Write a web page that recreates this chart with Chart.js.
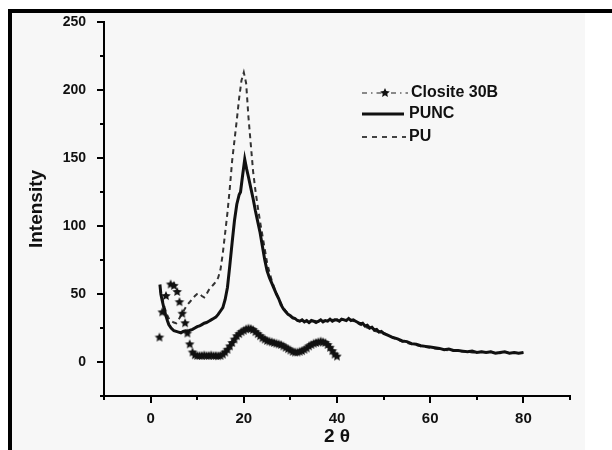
<!DOCTYPE html>
<html lang="en">
<head>
<meta charset="UTF-8">
<title>XRD Patterns</title>
<script src="https://cdn.jsdelivr.net/npm/chart.js"></script>
<style>
    body { margin: 0; background: #fff; }
    .frame {
        position: absolute; left: 8px; top: 9px; width: 604px; height: 441px;
        border-top: 4px solid #000; border-left: 4px solid #000; box-sizing: border-box;
    }
    .panel { position: absolute; left: 12px; top: 13px; width: 573px; height: 437px; background: #f7f7f7; }
    #xrdChart { position: absolute; left: 0; top: 0; }
</style>
</head>
<body>
<div class="frame"></div>
<div class="panel"></div>
<canvas id="xrdChart" width="612" height="450"></canvas>
<script>
// values (2 theta in degrees, intensity a.u.)
const seriesNames = ['Closite 30B', 'PUNC', 'PU'];

const clositeAngle = [1.9, 2.5, 3.3, 4.3, 5.0, 5.7, 6.2, 6.8, 7.4, 7.9, 8.4, 9.0,
    9.5, 10, 10.5, 11, 11.5, 12, 12.5, 13, 13.5, 14, 14.5, 15, 15.5, 16, 16.5, 17, 17.5, 18, 18.5, 19, 19.5,
    20, 20.5, 21, 21.5, 22, 22.5, 23, 23.5, 24, 24.5, 25, 25.5, 26, 26.5, 27, 27.5, 28, 28.5, 29, 29.5,
    30, 30.5, 31, 31.5, 32, 32.5, 33, 33.5, 34, 34.5, 35, 35.5, 36, 36.5, 37, 37.5, 38, 38.5, 39, 39.5, 40];
const clositeIntensity = [18, 36.5, 48.5, 57, 56, 51.5, 44, 35.5, 28.5, 21, 13, 7,
    5, 4.5, 4.5, 4.5, 4.8, 4.5, 4.5, 4.8, 4.5, 4.5, 4.3, 4.5, 5.5, 7, 9, 11.5, 14, 16.5, 19, 20.5, 22,
    23, 24, 24.5, 24.3, 23.5, 22, 20.5, 19, 17.5, 16.5, 15.5, 15, 14.5, 14, 13.5, 13, 12.5, 11.5, 10.5, 9.5,
    8.5, 7.5, 7, 7, 7.5, 8, 9, 10, 11.5, 12.5, 13.5, 14, 14.5, 15, 14.5, 14, 12.5, 10.5, 8, 5.5, 4];

const puncAngle = [2.0, 2.2, 2.5, 2.9, 3.2, 3.6, 3.9, 4.4, 5.0, 5.5, 6.0, 6.5, 7.0, 7.5, 8.0, 8.5, 9.0, 9.5,
    10, 10.5, 11, 11.5, 12, 12.5, 13, 13.5, 14, 14.5, 15, 15.5, 16, 16.5, 17, 17.5, 18, 18.5, 19, 19.3, 19.7,
    20.2, 20.6, 21, 21.5, 22, 22.5, 23, 23.5, 24, 24.5, 25, 25.5, 26, 26.5, 27, 27.5, 28, 28.5, 29, 29.5,
    30, 30.5, 31, 31.5, 32, 32.5, 33, 33.5, 34, 34.5, 35, 35.5, 36, 36.5, 37, 37.5, 38, 38.5, 39, 39.5,
    40, 40.5, 41, 41.5, 42, 42.5, 43, 43.5, 44, 44.5, 45, 45.5, 46, 46.5, 47, 47.5, 48, 48.5, 49, 49.5,
    50, 51, 52, 53, 54, 55, 56, 57, 58, 59, 60, 61, 62, 63, 64, 65, 66, 67, 68, 69,
    70, 71, 72, 73, 74, 75, 76, 77, 78, 79, 80];
const puncIntensity = [57, 50, 45, 39, 35, 30.5, 27.5, 25, 23, 22.5, 22, 21.5, 22.5, 23, 22.5, 23.5, 24, 25,
    26, 26.5, 27.5, 28.5, 29, 30, 31, 32, 33, 35, 37.5, 40, 46, 55, 71, 88, 104, 116, 123, 125, 136,
    149, 142, 136, 128, 120, 111, 103, 95, 85, 75, 67, 62, 58, 54, 50, 46.5, 42, 39, 37, 35,
    34, 32.5, 32, 30.5, 30, 31, 29.5, 30.5, 29, 30.5, 30, 29, 30, 31, 29.5, 30.5, 30, 31.5, 30, 31,
    31, 30, 31.5, 31, 30.5, 32, 30.5, 31, 30, 29, 28, 28.5, 26.5, 27, 25, 25.5, 23.5, 24, 22, 22.5,
    21, 19.5, 18, 17, 15.5, 15, 13.5, 13, 12, 11.5, 11, 10.5, 10, 9, 9.5, 8.5, 8.5, 8, 7.5, 8,
    7, 7.5, 7, 7.5, 6.5, 7, 7.5, 6.5, 7, 6.5, 7];

const puAngle = [2.0, 2.5, 3.0, 3.5, 4.0, 4.5, 5.0, 5.5, 6.0, 6.5, 7.0, 7.5, 8.0, 8.5, 9.0, 9.5,
    10, 10.5, 11, 11.5, 12, 12.5, 13, 13.5, 14, 14.5, 15, 15.5, 16, 16.5, 17, 17.5, 18, 18.5, 19, 19.5,
    20, 20.5, 21, 21.5, 22, 22.5, 23, 23.5, 24, 24.5, 25, 25.5, 26, 26.5, 27, 27.5, 28, 28.5, 29, 29.5,
    30, 31, 32, 33, 34, 35, 36, 37, 38, 39, 40, 41, 42, 43, 44, 45, 46, 47, 48, 49, 50, 51, 52, 53, 54, 55,
    56, 57, 58, 59, 60, 61, 62, 63, 64, 65, 66, 67, 68, 69, 70, 71, 72, 73, 74, 75, 76, 77, 78, 79, 80];
const puIntensity = [54, 47, 40, 35, 31.5, 30, 29, 28.5, 31, 34, 37, 40, 42.5, 44.5, 46.5, 48.5,
    50, 50.5, 48.5, 47.5, 50, 53, 55, 57, 59, 62, 68, 80, 95, 110, 128, 148, 163, 178, 194, 207,
    213, 205, 180, 160, 140, 126, 114, 103, 93, 83, 73, 66, 60, 55, 50, 46.5, 43, 40, 37.5, 35.5,
    34, 31.5, 30, 30.5, 29, 30.5, 29.5, 30.5, 30, 31, 30.5, 31.5, 30.5, 31, 29.5, 27.5, 26, 24.5, 23, 22, 21.5, 19.5, 18, 16.5, 15, 14,
    13, 12.5, 11.5, 11, 10.5, 10, 9.5, 9, 8.5, 8.5, 8, 7.5, 7.5, 7, 7, 7.5, 7, 7.5, 7, 6.5, 7.5, 6.5, 7, 6.5, 7];

const FONT = "'Liberation Sans', Arial, sans-serif";

function toPoints(xs, ys) {
    return xs.map((x, i) => ({ x: x, y: ys[i] }));
}

// filled five point star used as the Closite marker
function makeStar(r) {
    const c = document.createElement('canvas');
    const s = Math.ceil(r * 2) + 2;
    c.width = c.height = s;
    const g = c.getContext('2d');
    g.translate(s / 2, s / 2);
    g.beginPath();
    for (let i = 0; i < 10; i++) {
        const rad = i % 2 ? r * 0.47 : r;
        const a = -Math.PI / 2 + i * Math.PI / 5;
        g.lineTo(Math.cos(a) * rad, Math.sin(a) * rad);
    }
    g.closePath();
    g.fillStyle = '#111';
    g.fill();
    return c;
}
const starImg = makeStar(5);

// outward tick marks, long on labelled values, short on the others
const tickMarks = {
    id: 'tickMarks',
    afterDraw(chart) {
        const ctx = chart.ctx, xs = chart.scales.x, ys = chart.scales.y;
        ctx.save();
        ctx.strokeStyle = '#000';
        ctx.lineWidth = 2;
        ctx.beginPath();
        xs.ticks.forEach(t => {
            const px = Math.round(xs.getPixelForValue(t.value));
            const len = t.value % 20 === 0 ? 7 : 4;
            ctx.moveTo(px, ys.bottom);
            ctx.lineTo(px, ys.bottom + len);
        });
        ys.ticks.forEach(t => {
            const py = Math.round(ys.getPixelForValue(t.value));
            const len = t.value % 50 === 0 ? 7 : 4;
            ctx.moveTo(xs.left, py);
            ctx.lineTo(xs.left - len, py);
        });
        ctx.stroke();
        ctx.restore();
    }
};

// legend inside the plot, top right
const insideLegend = {
    id: 'insideLegend',
    afterDraw(chart) {
        const ctx = chart.ctx;
        ctx.save();
        ctx.font = 'bold 16px ' + FONT;
        ctx.textBaseline = 'middle';
        ctx.fillStyle = '#111';

        // Closite 30B: dash-dot line with a star
        ctx.strokeStyle = '#666';
        ctx.lineWidth = 1.5;
        ctx.setLineDash([5, 4, 1.5, 4]);
        ctx.beginPath();
        ctx.moveTo(362, 93);
        ctx.lineTo(408, 93);
        ctx.stroke();
        ctx.drawImage(starImg, 385 - starImg.width / 2, 93 - starImg.height / 2);
        ctx.fillText(seriesNames[0], 411, 93);

        // PUNC: solid
        ctx.setLineDash([]);
        ctx.strokeStyle = '#111';
        ctx.lineWidth = 3;
        ctx.beginPath();
        ctx.moveTo(362, 114);
        ctx.lineTo(404, 114);
        ctx.stroke();
        ctx.fillText(seriesNames[1], 409, 114);

        // PU: dashed
        ctx.strokeStyle = '#444';
        ctx.lineWidth = 2;
        ctx.setLineDash([5, 5]);
        ctx.beginPath();
        ctx.moveTo(362, 137);
        ctx.lineTo(406, 137);
        ctx.stroke();
        ctx.fillText(seriesNames[2], 409, 137);
        ctx.restore();
    }
};

const ctx = document.getElementById('xrdChart').getContext('2d');
new Chart(ctx, {
    type: 'line',
    data: {
        datasets: [
            {
                label: seriesNames[0],
                data: toPoints(clositeAngle, clositeIntensity),
                showLine: false,
                pointStyle: starImg,
                pointRadius: 5,
                order: 0
            },
            {
                label: seriesNames[1],
                data: toPoints(puncAngle, puncIntensity),
                borderColor: '#111',
                borderWidth: 3,
                pointRadius: 0,
                tension: 0,
                order: 1
            },
            {
                label: seriesNames[2],
                data: toPoints(puAngle, puIntensity),
                borderColor: '#333',
                borderWidth: 2,
                borderDash: [5, 4],
                pointRadius: 0,
                tension: 0,
                order: 2
            }
        ]
    },
    options: {
        responsive: false,
        animation: false,
        devicePixelRatio: 1,
        layout: { padding: { top: 22, right: 42, left: 0, bottom: 0 } },
        plugins: {
            legend: { display: false },
            tooltip: { enabled: false }
        },
        scales: {
            x: {
                type: 'linear',
                min: -10,
                max: 90,
                afterFit: s => { s.height = 54; },
                grid: { display: false },
                border: { display: true, color: '#000', width: 2 },
                ticks: {
                    stepSize: 10,
                    padding: 6,
                    color: '#111',
                    font: { family: FONT, size: 15, weight: 'bold' },
                    callback: v => (v % 20 === 0 && v >= 0 && v <= 80) ? v : ''
                },
                title: {
                    display: true,
                    text: '2 θ',
                    color: '#111',
                    font: { family: FONT, size: 19, weight: 'bold' },
                    padding: { top: 0, bottom: 2 }
                }
            },
            y: {
                min: -25,
                max: 250,
                afterFit: s => { s.width = 104; },
                grid: { display: false },
                border: { display: true, color: '#000', width: 2 },
                ticks: {
                    stepSize: 25,
                    padding: 10,
                    color: '#111',
                    font: { family: FONT, size: 14, weight: 'bold' },
                    callback: v => (v % 50 === 0 && v >= 0) ? v : ''
                },
                title: {
                    display: true,
                    text: 'Intensity',
                    color: '#111',
                    font: { family: FONT, size: 19, weight: 'bold' },
                    padding: { top: 25, bottom: 0 }
                }
            }
        }
    },
    plugins: [tickMarks, insideLegend]
});
</script>
</body>
</html>
